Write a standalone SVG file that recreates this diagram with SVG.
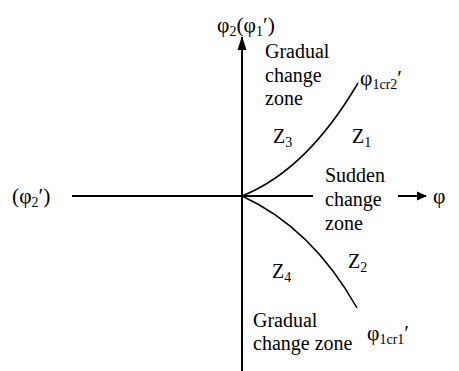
<svg xmlns="http://www.w3.org/2000/svg" width="459" height="371" viewBox="0 0 459 371">
<style>
text{font-family:"Liberation Serif","Times New Roman",serif;font-size:20px;fill:#000}
.sub{font-size:14px}
.big{font-size:21.5px}
.ax{stroke:#000;stroke-width:2;fill:none}
.cv{stroke:#000;stroke-width:1.5;fill:none}
</style>
<defs>
<marker id="ah" markerWidth="10" markerHeight="10" refX="9" refY="5" orient="auto" markerUnits="userSpaceOnUse">
<path d="M0,0.5 L10,5 L0,9.5 Z" fill="#000"/>
</marker>
<marker id="ah2" markerWidth="14" markerHeight="10" refX="13" refY="5" orient="auto" markerUnits="userSpaceOnUse">
<path d="M0,0.5 L14,5 L0,9.5 Z" fill="#000"/>
</marker>
</defs>
<g id="connectors">
<line class="ax" x1="242" y1="371" x2="242" y2="37" marker-end="url(#ah2)"/>
<line class="ax" x1="72" y1="196" x2="313" y2="196"/>
<line class="ax" x1="398" y1="196" x2="426" y2="196" marker-end="url(#ah)"/>
<path class="cv" d="M242,196 Q307,170 358,83"/>
<path class="cv" d="M242,196 Q312,228 357,308"/>
</g>
<g id="yaxis-label"><text class="big" x="217" y="32">φ<tspan class="sub" dy="4">2</tspan><tspan dy="-4">(φ</tspan><tspan class="sub" dy="4">1</tspan><tspan dy="-4">′)</tspan></text></g>
<g id="xaxis-left-label"><text class="big" x="12" y="203">(φ<tspan class="sub" dy="4">2</tspan><tspan dy="-4">′)</tspan></text></g>
<g id="xaxis-right-label"><text class="big" x="433" y="203">φ</text></g>
<g id="gradual-top"><text x="265" y="58">Gradual</text><text x="265" y="82">change</text><text x="265" y="105">zone</text></g>
<g id="sudden"><text x="325" y="182">Sudden</text><text x="325" y="206">change</text><text x="325" y="230">zone</text></g>
<g id="gradual-bottom"><text x="253" y="327">Gradual</text><text x="253" y="350">change zone</text></g>
<g id="phi1cr2"><text class="big" x="360" y="85">φ<tspan class="sub" dy="4">1cr2</tspan><tspan dy="-4">′</tspan></text></g>
<g id="phi1cr1"><text class="big" x="367" y="340">φ<tspan class="sub" dy="4">1cr1</tspan><tspan dy="-4">′</tspan></text></g>
<g id="z3"><text x="273" y="143">Z<tspan class="sub" dy="4">3</tspan></text></g>
<g id="z1"><text x="352" y="143">Z<tspan class="sub" dy="4">1</tspan></text></g>
<g id="z4"><text x="272" y="278">Z<tspan class="sub" dy="4">4</tspan></text></g>
<g id="z2"><text x="348" y="268">Z<tspan class="sub" dy="4">2</tspan></text></g>
</svg>
